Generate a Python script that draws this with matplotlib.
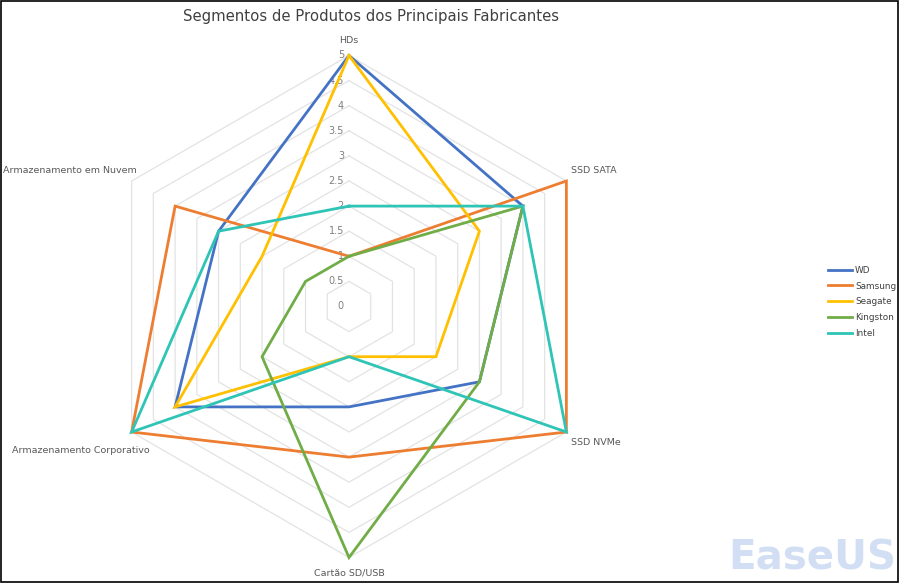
import numpy as np
import matplotlib
matplotlib.use("Agg")
import matplotlib.pyplot as plt

categories = ["HDs", "SSD SATA", "SSD NVMe", "Cartão SD/USB",
              "Armazenamento Corporativo", "Armazenamento em Nuvem"]
series_names = ["WD", "Samsung", "Seagate", "Kingston", "Intel"]
wd = [5, 4, 3, 2, 4, 3]
samsung = [1, 5, 5, 3, 5, 4]
seagate = [5, 3, 2, 1, 4, 2]
kingston = [1, 4, 3, 5, 2, 1]
intel = [2, 4, 5, 1, 5, 3]
tick_values = [0, 0.5, 1, 1.5, 2, 2.5, 3, 3.5, 4, 4.5, 5]
tick_labels = ["0", "0.5", "1", "1.5", "2", "2.5", "3", "3.5", "4", "4.5", "5"]
colors = ["#4472C4", "#ED7D31", "#FFC000", "#70AD47", "#2EC4B6"]

W, H = 900, 583
fig = plt.figure(figsize=(W / 100, H / 100), dpi=100)
ax = fig.add_axes([0, 0, 1, 1])
ax.set_axis_off()

cx, cy = 349, H - 306.5   # pixel centre (from bottom)
ppu = 50.2                # pixels per unit
ax.set_xlim(-cx / ppu, (W - cx) / ppu)
ax.set_ylim(-cy / ppu, (H - cy) / ppu)

n = len(categories)
theta = np.arange(n) * 2 * np.pi / n
sx, sy = np.sin(theta), np.cos(theta)

def closed(vals):
    v = np.asarray(vals, dtype=float)
    x = v * sx
    y = v * sy
    return np.append(x, x[0]), np.append(y, y[0])

# grid hexagons
for t in tick_values[1:]:
    gx, gy = closed([t] * n)
    ax.plot(gx, gy, color="#e3e3e3", lw=0.9, zorder=1)

# tick labels
for t, lab in zip(tick_values, tick_labels):
    ax.text(-0.1, t, lab, ha="right", va="center", fontsize=7,
            color="#7f7f7f", zorder=2)

# series
all_series = [wd, samsung, seagate, kingston, intel]
for name, vals, c in zip(series_names, all_series, colors):
    x, y = closed(vals)
    ax.plot(x, y, color=c, lw=2.0, label=name, zorder=3,
            solid_joinstyle="miter")

# category labels
lab_col = "#595959"
fs = 6.8
ax.text(0, 5.3, categories[0], ha="center", va="center", fontsize=fs, color=lab_col)
ax.text(5 * sx[1] + 0.1, 5 * sy[1] + 0.2, categories[1], ha="left", va="center", fontsize=fs, color=lab_col)
ax.text(5 * sx[2] + 0.1, 5 * sy[2] - 0.2, categories[2], ha="left", va="center", fontsize=fs, color=lab_col)
ax.text(0, -5.3, categories[3], ha="center", va="center", fontsize=fs, color=lab_col)
ax.text(5 * sx[4] + 0.35, 5 * sy[4] - 0.36, categories[4], ha="right", va="center", fontsize=fs, color=lab_col)
ax.text(5 * sx[5] + 0.11, 5 * sy[5] + 0.21, categories[5], ha="right", va="center", fontsize=fs, color=lab_col)

# title
fig.text(371 / W, 1 - 17 / H, "Segmentos de Produtos dos Principais Fabricantes",
         ha="center", va="center", fontsize=10.7, color="#404040")

# legend
leg = fig.legend(loc="center left", bbox_to_anchor=(824 / W, 1 - 302 / H),
                 frameon=False, fontsize=6.4, handlelength=2.6,
                 handletextpad=0.4, labelspacing=0.78, borderpad=0)
for txt in leg.get_texts():
    txt.set_color("#404040")

# watermark
fig.text(896 / W, 4 / H, "EaseUS", ha="right", va="bottom", fontsize=29,
         fontweight="bold", color="#d2def3", zorder=0)

# border
ax.add_patch(plt.Rectangle((0.001, 0.002), 0.997, 0.996, transform=fig.transFigure,
                           fill=False, edgecolor="black", lw=1.2, zorder=10))

fig.savefig("out.png", dpi=100)
